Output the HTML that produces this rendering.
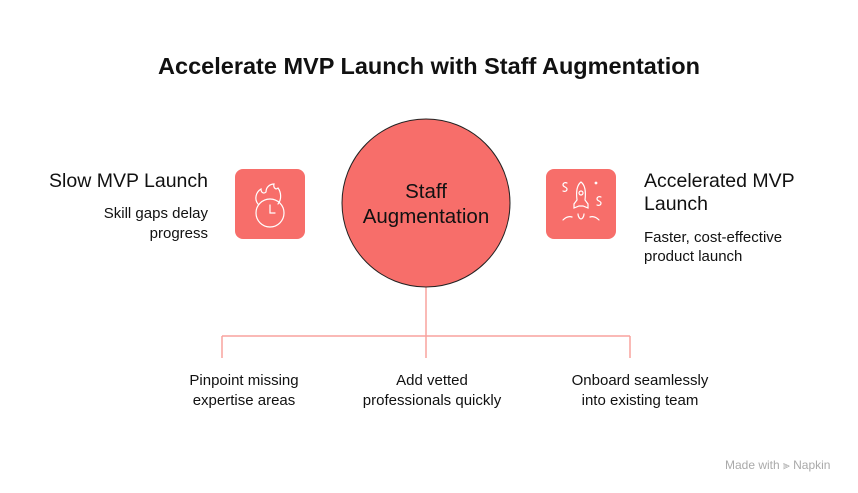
<!DOCTYPE html>
<html><head><style>
body{margin:0;width:858px;height:493px;background:#fff;font-family:"Liberation Sans",sans-serif;position:relative;overflow:hidden;color:#111}
.a{position:absolute}
</style></head><body>
<div class="a" style="left:0;width:858px;top:53px;text-align:center;font-size:23.5px;font-weight:bold">Accelerate MVP Launch with Staff Augmentation</div>
<svg class="a" style="left:0;top:0" width="858" height="493">
<g stroke="#F8A29E" stroke-width="1.5" fill="none">
<line x1="426" y1="286" x2="426" y2="358"/>
<line x1="222" y1="336" x2="630" y2="336"/>
<line x1="222" y1="336" x2="222" y2="358"/>
<line x1="630" y1="336" x2="630" y2="358"/>
</g>
<circle cx="426" cy="203" r="84" fill="#F76E6A" stroke="#222" stroke-width="1"/>
<rect x="235" y="169" width="70" height="70" rx="8" fill="#F76E6A"/>
<rect x="546" y="169" width="70" height="70" rx="8" fill="#F76E6A"/>
<g stroke="#fff" stroke-width="1.2" fill="none" stroke-linecap="round">
<circle cx="270" cy="213" r="14"/>
<path d="M270 205v8h5"/>
<path d="M258 204c-4-5-2-12 3-15c0 4 3 5 5 3c0-5 4-8 8-8c-1 4 2 6 4 4c3 4 4 11 0 16"/>
<path d="M581 182c-4 3-5 10-4 18l-3 4v4l5-2h4l5 2v-4l-3-4c1-8 0-15-4-18z"/>
<circle cx="581" cy="193" r="2"/>
<path d="M578 214c0 3 2 5 3 5s3-2 3-5"/>
<path d="M563 220c3-3 6-4 9-3M599 220c-3-3-6-4-9-3"/>
<path d="M567 183c-2-1-4 0-4 2s4 2 4 4-2 3-4 2M601 197c-2-1-4 0-4 2s4 2 4 4-2 3-4 2"/>
<circle cx="596" cy="183" r="0.8"/>
</g>
</svg>
<div class="a" style="left:332px;width:188px;top:179px;text-align:center;font-size:20.5px;line-height:25px">Staff<br>Augmentation</div>
<div class="a" style="right:650px;top:170px;font-size:19.5px;text-align:right;white-space:nowrap">Slow MVP Launch</div>
<div class="a" style="right:650px;top:204px;font-size:15px;line-height:20px;text-align:right">Skill gaps delay<br>progress</div>
<div class="a" style="left:644px;top:170px;font-size:19.5px;line-height:23px;white-space:nowrap">Accelerated MVP<br>Launch</div>
<div class="a" style="left:644px;top:228px;font-size:15px;line-height:19px;white-space:nowrap">Faster, cost-effective<br>product launch</div>
<div class="a" style="left:154px;width:180px;top:371px;font-size:15px;line-height:20px;text-align:center">Pinpoint missing<br>expertise areas</div>
<div class="a" style="left:342px;width:180px;top:371px;font-size:15px;line-height:20px;text-align:center">Add vetted<br>professionals quickly</div>
<div class="a" style="left:550px;width:180px;top:371px;font-size:15px;line-height:20px;text-align:center">Onboard seamlessly<br>into existing team</div>
<div class="a" style="left:725px;top:458px;font-size:12px;color:#aaa">Made with ⫸ Napkin</div>
</body></html>
